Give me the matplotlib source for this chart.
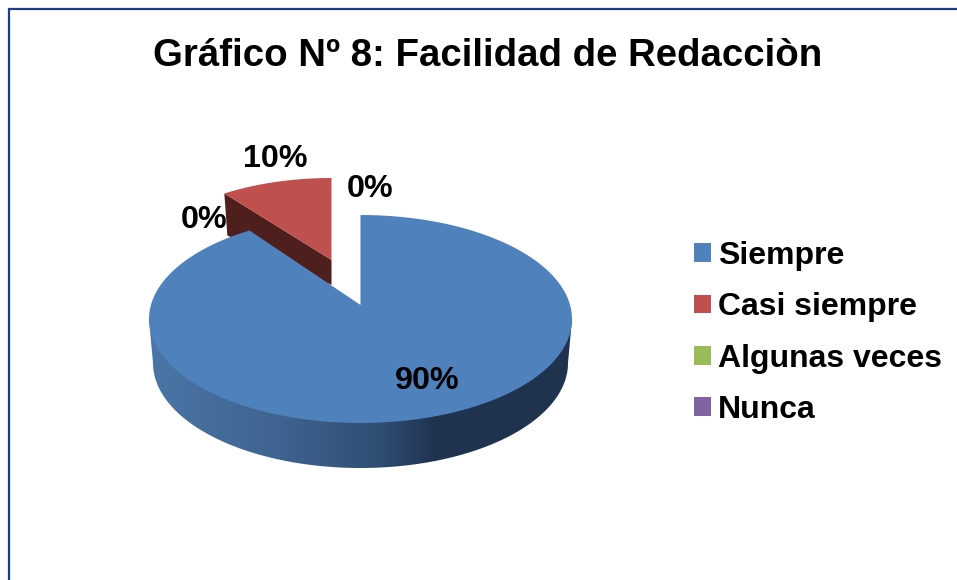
#!/usr/bin/python
import numpy as np
import matplotlib
matplotlib.use('Agg')
import matplotlib.pyplot as plt
from matplotlib.patches import Patch, Polygon
from matplotlib.colors import LinearSegmentedColormap

categories = ['Siempre', 'Casi siempre', 'Algunas veces', 'Nunca']
values = [90, 10, 0, 0]
colors = ['#4f81bd', '#c0504d', '#9bbb59', '#8064a2']

plt.rcParams['font.family'] = ['Liberation Sans', 'DejaVu Sans']

fig = plt.figure(figsize=(9.57, 5.8), dpi=100)
ax = fig.add_axes([0, 0, 1, 1])
ax.set_xlim(0, 957)
ax.set_ylim(580, 0)
ax.axis('off')

# pie geometry in pixels
cx, cy, rx, ry = 360.5, 319, 211.5, 104
persp = 0.135   # centre of the tilted disc sits above the ellipse centre


def disc(frac):
    # frac is clockwise from 12 o'clock, 0..1
    a = 2 * np.pi * np.asarray(frac)
    x, y = np.sin(a), np.cos(a)
    d = 1 + persp * y
    return x * np.sqrt(1 - persp ** 2) / d, (y + persp) / d


def top_face(start, end):
    f = np.linspace(start, end, 200)
    x, y = disc(f)
    px = cx + rx * x
    py = cy - ry * y
    return px, py, cx, cy - ry * persp


# chart frame
ax.plot([8.5, 8.5, 957], [580, 8.5, 8.5], color='#1f3f80', lw=1.6, solid_joinstyle='miter')

# side of the big slice, shaded left to right
t = np.linspace(0, np.pi, 200)
side_x = np.r_[149, 360.5 - 207.5 * np.cos(t), 572]
side_y = np.r_[319, 363 + 105 * np.sin(t), 319]
side = Polygon(np.c_[side_x, side_y], closed=True, fc='none', ec='none')
ax.add_patch(side)
shade = LinearSegmentedColormap.from_list('side', [(0, '#4a76a6'), (0.3, '#3f6491'), (0.55, '#2f4d72'),
                                                   (0.68, '#1f334f'), (1, '#1f334f')])
im = ax.imshow(np.linspace(0, 1, 256)[None, :], extent=(149, 572, 470, 319), cmap=shade, aspect='auto', zorder=1)
im.set_clip_path(side)
ax.set_xlim(0, 957)
ax.set_ylim(580, 0)

# pie slices, from the values
shares = np.array(values) / sum(values)
edges = np.r_[0, np.cumsum(shares)]
offsets = [(0, 0), (-29, -37), (0, 0), (0, 0)]
for i in range(len(values)):
    if values[i] == 0:
        continue
    px, py, ax0, ay0 = top_face(edges[i], edges[i + 1])
    dx, dy = offsets[i]
    apex_x, apex_y = ax0 + dx, ay0 + dy
    px = px + dx
    py = py + dy
    if i == 1:
        # pulled out slice looks a bit narrower
        apex_y -= 8
        px = apex_x + (px - apex_x) * 0.965
        c_x, c_y = px[0], py[0]
        ax.add_patch(Polygon([(c_x, c_y), (apex_x, apex_y), (apex_x, apex_y + 25), (c_x + 3, c_y + 42)],
                             closed=True, fc='#4f1f1e', ec='none', zorder=2))
    pts = np.c_[np.r_[apex_x, px], np.r_[apex_y, py]]
    ax.add_patch(Polygon(pts, closed=True, fc=colors[i], ec='none', zorder=2 if i == 1 else 3))

# thin dark edge of the notch
ax.plot([cx, cx], [cy - ry + 1, cy - ry * persp], color='#1f334f', lw=0.8, zorder=2.5)

# data labels
label_pos = [(427, 381), (275, 159), (204.5, 220), (370, 189)]
for v, (lx, ly) in zip(values, label_pos):
    ax.text(lx, ly, '%d%%' % v, fontsize=23.2, fontweight='bold', color='black',
            ha='center', va='center', zorder=5)

ax.text(488, 56, 'Gráfico Nº 8: Facilidad de Redacciòn', fontsize=27.6, fontweight='bold',
        color='black', ha='center', va='center')

handles = [Patch(fc=c, ec='none') for c in colors]
ax.legend(handles, categories, loc='center left', bbox_to_anchor=(688 / 957, 1 - 333 / 580),
          frameon=False, prop={'size': 23.0, 'weight': 'bold'},
          handlelength=0.53, handleheight=0.53, handletextpad=0.2, labelspacing=0.67,
          borderpad=0.2, borderaxespad=0)

fig.savefig('out.png', dpi=100)
